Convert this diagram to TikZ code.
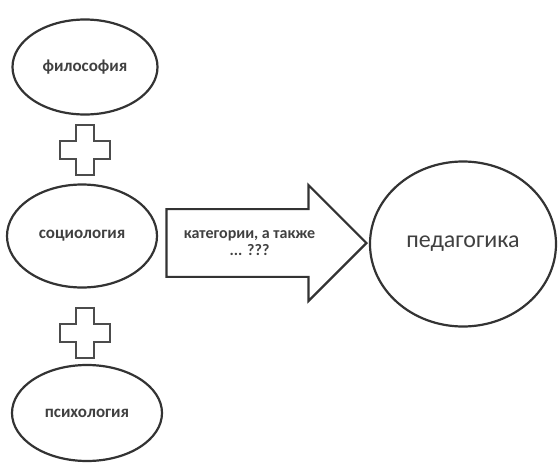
\documentclass[tikz,border=0pt]{standalone}
\usepackage{fontspec}
\setmainfont{Carlito}
\usetikzlibrary{shapes.arrows,shapes.geometric}

\begin{document}
\begin{tikzpicture}[x=1pt, y=-1pt,
      line width=2.2pt, draw=black!80, text=black!75,
      every node/.style = {align=center, inner sep=0pt},
      science/.style = {ellipse, draw, font=\bfseries\fontsize{17}{19}\selectfont},
      plus/.pic = {\draw[line width=2.6pt, draw=black!70]
        (-9,-25) -- (9,-25) -- (9,-9) -- (25,-9) -- (25,9) -- (9,9) -- (9,25)
        -- (-9,25) -- (-9,9) -- (-25,9) -- (-25,-9) -- (-9,-9) -- cycle;}]
  \useasboundingbox (0,0) rectangle (558,466);
  \node[science, minimum width=145pt, minimum height=95pt] (philo) at (85,67) {философия};
  \node[science, minimum width=150pt, minimum height=103pt] (socio) at (82,236) {социология};
  \node[science, minimum width=150pt, minimum height=96pt] (psycho) at (87,413) {психология};
  \pic at (85,150) {plus};
  \pic at (85,333) {plus};
  \node[ellipse, draw, minimum width=186pt, minimum height=165pt,
        font=\fontsize{24}{28}\selectfont] (ped) at (463,244) {педагогика};
  \node[single arrow, draw, minimum height=200pt, single arrow head extend=24pt,
        inner xsep=4pt, inner ysep=20pt, anchor=tip,
        font=\bfseries\fontsize{16}{17.5}\selectfont] (cat) at (368,243)
        {категории, а также\\ ... ???};
\end{tikzpicture}
\end{document}
